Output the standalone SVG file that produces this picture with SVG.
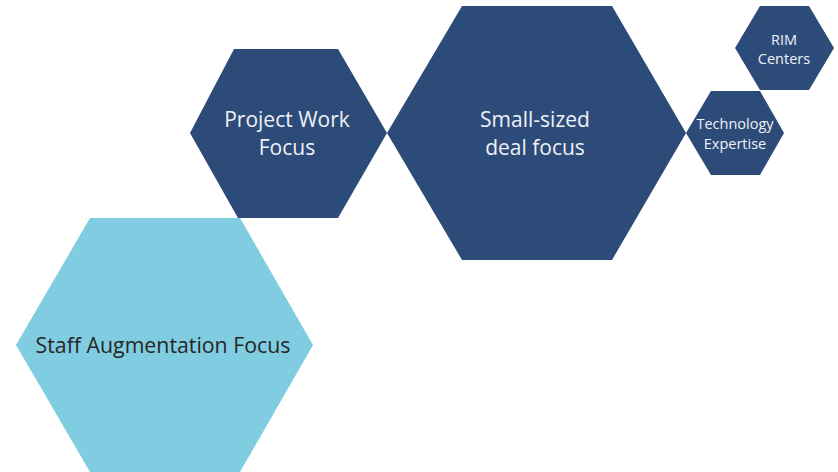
<svg xmlns="http://www.w3.org/2000/svg" width="838" height="472" viewBox="0 0 838 472">
  <style>
    .dark { fill: #2d4b78; }
    .light { fill: #80cde2; }
    .lbl { font-family: "Open Sans", "Noto Sans", sans-serif; text-anchor: middle; }
    .lbl-dark { fill: #eef1f5; }
    .lbl-light { fill: #262626; }
    .big { font-size: 21px; }
    .small { font-size: 14.5px; }
  </style>
  <rect width="838" height="472" fill="#ffffff"/>

  <g id="staff-augmentation">
    <polygon class="light" points="90,218 240,218 313,345 240,472 90,472 16,345"/>
    <text class="lbl lbl-light" x="163" y="353" font-size="21.3">Staff Augmentation Focus</text>
  </g>

  <g id="project-work">
    <polygon class="dark" points="234,49 338,49 387,133 338,218 238,218 190,133"/>
    <text class="lbl lbl-dark big" x="287" y="127">Project Work</text>
    <text class="lbl lbl-dark big" x="287" y="155">Focus</text>
  </g>

  <g id="small-sized-deal">
    <polygon class="dark" points="462,6 612,6 686,133 612,260 462,260 387,133"/>
    <text class="lbl lbl-dark big" x="535" y="127">Small-sized</text>
    <text class="lbl lbl-dark big" x="535" y="155">deal focus</text>
  </g>

  <g id="technology-expertise">
    <polygon class="dark" points="711,91 760,91 784,133 760,175 711,175 686,133"/>
    <text class="lbl lbl-dark small" x="735" y="129">Technology</text>
    <text class="lbl lbl-dark small" x="735" y="149">Expertise</text>
  </g>

  <g id="rim-centers">
    <polygon class="dark" points="760,6 809,6 834,48 809,90 760,90 735,48"/>
    <text class="lbl lbl-dark small" x="784" y="44.5">RIM</text>
    <text class="lbl lbl-dark small" x="784" y="64">Centers</text>
  </g>

  <g id="connectors"/>
</svg>
